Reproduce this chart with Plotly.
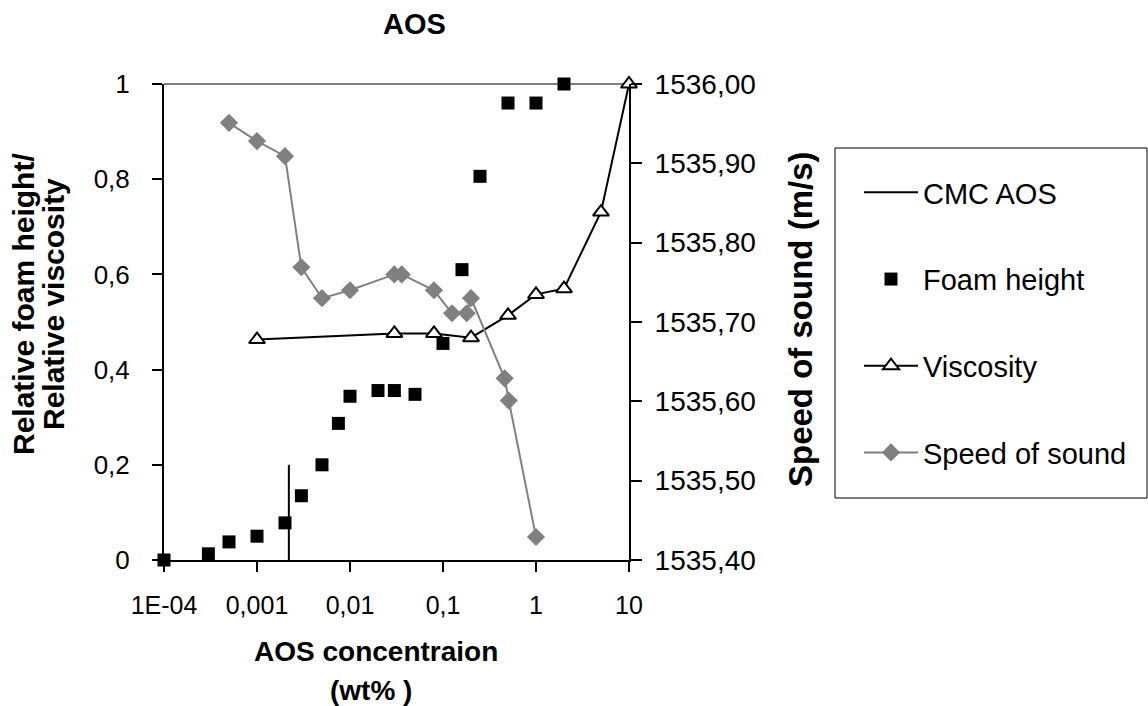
import plotly.graph_objects as go

# ---------------- data ----------------
foam_x = [0.0001, 0.0003, 0.0005, 0.001, 0.002, 0.003, 0.005, 0.0075, 0.01,
          0.02, 0.03, 0.05, 0.1, 0.16, 0.25, 0.5, 1, 2]
foam_y = [0.0, 0.013, 0.038, 0.05, 0.078, 0.135, 0.20, 0.287, 0.344,
          0.356, 0.356, 0.348, 0.455, 0.610, 0.806, 0.96, 0.96, 1.0]

visc_x = [0.001, 0.03, 0.08, 0.2, 0.5, 1, 2, 5, 10]
visc_y = [0.463, 0.476, 0.476, 0.467, 0.514, 0.558, 0.570, 0.731, 1.0]

sos_x = [0.0005, 0.001, 0.002, 0.003, 0.005, 0.01, 0.03, 0.036, 0.08,
         0.125, 0.18, 0.2, 0.46, 0.51, 1]
sos_y = [1535.951, 1535.928, 1535.909, 1535.769, 1535.730, 1535.740, 1535.760,
         1535.760, 1535.740, 1535.711, 1535.711, 1535.730, 1535.629, 1535.601,
         1535.429]

cmc_x = [0.0022, 0.0022]
cmc_y = [0.0, 0.2]

x_tickvals = [0.0001, 0.001, 0.01, 0.1, 1, 10]
x_ticktext = ["1E-04", "0,001", "0,01", "0,1", "1", "10"]
yl_tickvals = [0, 0.2, 0.4, 0.6, 0.8, 1.0]
yl_ticktext = ["0", "0,2", "0,4", "0,6", "0,8", "1"]
yr_tickvals = [1535.40, 1535.50, 1535.60, 1535.70, 1535.80, 1535.90, 1536.00]
yr_ticktext = ["1535,40", "1535,50", "1535,60", "1535,70", "1535,80", "1535,90", "1536,00"]

# ---------------- layout geometry (pixels) ----------------
W, H = 1148, 706
L, R, T, B = 164, 629, 84, 560
PW, PH = R - L, B - T


def px(x):
    return (x - L) / PW


def py(y):
    return (B - y) / PH


FONT = "Liberation Sans, Arial, sans-serif"
GRAY = "#808080"

fig = go.Figure()

fig.add_trace(go.Scatter(
    x=cmc_x, y=cmc_y, mode="lines", name="CMC AOS",
    line=dict(color="black", width=2), legendgroup="a", cliponaxis=False))

fig.add_trace(go.Scatter(
    x=foam_x, y=foam_y, mode="markers", name="Foam height",
    marker=dict(symbol="square", size=13, color="black"),
    legendgroup="b", cliponaxis=False))

fig.add_trace(go.Scatter(
    x=visc_x, y=visc_y, mode="lines+markers", name="Viscosity",
    line=dict(color="black", width=2),
    marker=dict(symbol="triangle-up", size=14, color="white",
                line=dict(color="black", width=2)),
    legendgroup="c", cliponaxis=False))

fig.add_trace(go.Scatter(
    x=sos_x, y=sos_y, mode="lines+markers", name="Speed of sound",
    line=dict(color=GRAY, width=2),
    marker=dict(symbol="diamond", size=14, color=GRAY),
    legendgroup="d", yaxis="y2", cliponaxis=False))

fig.update_layout(
    width=W, height=H, autosize=False,
    margin=dict(l=L, r=W - R, t=T, b=H - B),
    paper_bgcolor="white", plot_bgcolor="white",
    font=dict(family=FONT, color="black"),
    showlegend=True,
    legend=dict(
        x=px(859), y=py(167), xanchor="left", yanchor="top",
        bgcolor="rgba(0,0,0,0)", borderwidth=0,
        font=dict(size=29, family=FONT, color="black"),
        tracegroupgap=46, itemwidth=54,
    ),
    xaxis=dict(
        type="log", range=[-4, 1],
        tickvals=x_tickvals, ticktext=x_ticktext,
        ticks="outside", ticklen=10, tickwidth=1.5, tickcolor="black",
        tickfont=dict(size=25, family=FONT, color="black"),
        ticklabelstandoff=12,
        showline=True, linecolor="black", linewidth=2,
        showgrid=False, zeroline=False,
    ),
    yaxis=dict(
        range=[0, 1],
        tickvals=yl_tickvals, ticktext=yl_ticktext,
        ticks="outside", ticklen=10, tickwidth=1.5, tickcolor="black",
        tickfont=dict(size=26, family=FONT, color="black"),
        ticklabelstandoff=17,
        showline=True, linecolor="black", linewidth=2,
        showgrid=False, zeroline=False,
    ),
    yaxis2=dict(
        overlaying="y", side="right",
        range=[1535.40, 1536.00],
        tickvals=yr_tickvals, ticktext=yr_ticktext,
        ticks="outside", ticklen=11, tickwidth=1.5, tickcolor="black",
        tickfont=dict(size=28, family=FONT, color="black"),
        ticklabelstandoff=7,
        showline=True, linecolor="black", linewidth=2,
        showgrid=False, zeroline=False,
    ),
    yaxis3=dict(
        overlaying="y", side="right", anchor="x",
        range=[1535.40, 1536.00],
        tickvals=yr_tickvals,
        ticks="inside", ticklen=9, tickwidth=1.5, tickcolor="black",
        showticklabels=False, showline=False,
        showgrid=False, zeroline=False,
    ),
    shapes=[
        dict(type="line", xref="paper", yref="paper", x0=0, x1=1, y0=1, y1=1,
             line=dict(color=GRAY, width=2), layer="below"),
        dict(type="rect", xref="paper", yref="paper",
             x0=px(835), x1=px(1147), y0=py(148), y1=py(498),
             line=dict(color="black", width=1), fillcolor="rgba(0,0,0,0)"),
    ],
    annotations=[
        dict(text="<b>AOS</b>", xref="paper", yref="paper",
             x=px(414), y=py(24), xanchor="center", yanchor="middle",
             showarrow=False, font=dict(size=29, family=FONT, color="black")),
        dict(text="<b>AOS concentraion</b>", xref="paper", yref="paper",
             x=px(376), y=py(651), xanchor="center", yanchor="middle",
             showarrow=False, font=dict(size=28, family=FONT, color="black")),
        dict(text="<b>(wt% )</b>", xref="paper", yref="paper",
             x=px(371), y=py(690), xanchor="center", yanchor="middle",
             showarrow=False, font=dict(size=28, family=FONT, color="black")),
        dict(text="<b>Relative foam height/</b>",
             xref="paper", yref="paper", x=px(23), y=py(304),
             xanchor="center", yanchor="middle", textangle=-90,
             showarrow=False, font=dict(size=30, family=FONT, color="black")),
        dict(text="<b>Relative viscosity</b>",
             xref="paper", yref="paper", x=px(53), y=py(304),
             xanchor="center", yanchor="middle", textangle=-90,
             showarrow=False, font=dict(size=30, family=FONT, color="black")),
        dict(text="<b>Speed of sound (m/s)</b>",
             xref="paper", yref="paper", x=px(800), y=py(319),
             xanchor="center", yanchor="middle", textangle=-90,
             showarrow=False, font=dict(size=33, family=FONT, color="black")),
    ],
)

fig.write_html("out.html",
               config={"displayModeBar": False},
               post_script="document.body.style.margin='0px';document.body.style.overflow='hidden';")
